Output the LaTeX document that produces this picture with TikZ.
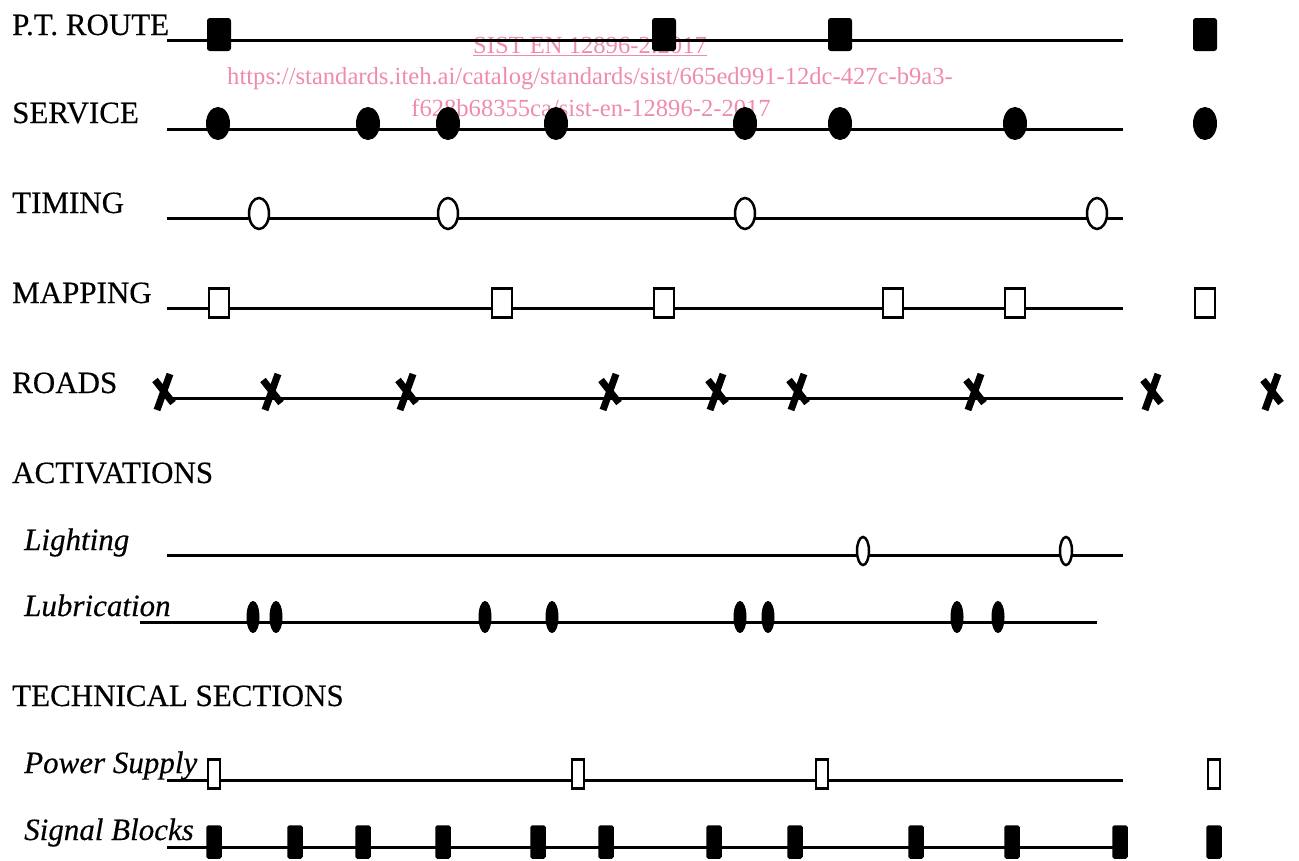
\documentclass[tikz,border=0pt]{standalone}
\usepackage{fontspec}
\setmainfont{Liberation Serif}
\newfontfamily\heavyserif[FakeBold=0.35]{Liberation Serif}
\usetikzlibrary{shapes.geometric}

\definecolor{wmpink}{RGB}{238,140,170}

\tikzset{
  track/.style={line width=3pt},
  lbl/.style={anchor=base west, inner sep=0pt, font=\fontsize{31}{31}\heavyserif},
  ilbl/.style={lbl, font=\fontsize{31}{31}\heavyserif\itshape},
  wm/.style={anchor=base, inner sep=0pt, text=wmpink, font=\fontsize{24.6}{25}\selectfont},
  fsq/.style={rectangle, draw, fill=black, line width=2pt, rounded corners=2pt,
              inner sep=0pt, minimum width=22pt, minimum height=31pt},
  osq/.style={rectangle, draw, fill=white, line width=2.5pt,
              inner sep=0pt, minimum width=20pt, minimum height=29pt},
  fdot/.style={ellipse, draw, fill=black, line width=1pt,
               inner sep=0pt, minimum width=23pt, minimum height=32pt},
  odot/.style={ellipse, draw, fill=white, line width=2.5pt,
               inner sep=0pt, minimum width=20pt, minimum height=31pt},
  olamp/.style={ellipse, draw, fill=white, line width=2.5pt,
                inner sep=0pt, minimum width=12pt, minimum height=28pt},
  fdrop/.style={ellipse, draw, fill=black, line width=1pt,
                inner sep=0pt, minimum width=12pt, minimum height=31pt},
  obar/.style={rectangle, draw, fill=white, line width=2.5pt,
               inner sep=0pt, minimum width=12pt, minimum height=29pt},
  fbar/.style={rectangle, draw, fill=black, line width=1.5pt, rounded corners=1.5pt,
               inner sep=0pt, minimum width=14pt, minimum height=32pt},
  xcross/.style={rectangle, inner sep=0pt, minimum width=36pt, minimum height=48pt,
    path picture={\draw[line width=7pt, shift={(path picture bounding box.center)}]
      (-9,-12) -- (9,11) (6,-18) -- (-7,18);}},
}

\begin{document}
\begin{tikzpicture}[x=1pt, y=-1pt]
\useasboundingbox (0,0) rectangle (1299,860);

% watermark text
\node[wm] (wm1) at (590,53) {\underline{SIST EN 12896-2:2017}};
\node[wm] (wm2) at (590,84) {https://standards.iteh.ai/catalog/standards/sist/665ed991-12dc-427c-b9a3-};
\node[wm] (wm3) at (591,116) {f628b68355ca/sist-en-12896-2-2017};

% row labels
\node[lbl]  (l-pt)   at (12,35)  {P.T. ROUTE};
\node[lbl]  (l-sv)   at (12,123) {SERVICE};
\node[lbl]  (l-tm)   at (12,213) {TIMING};
\node[lbl]  (l-mp)   at (12,303) {MAPPING};
\node[lbl]  (l-rd)   at (12,393) {ROADS};
\node[lbl]  (l-act)  at (12,483) {ACTIVATIONS};
\node[ilbl] (l-lt)   at (24,550) {Lighting};
\node[ilbl] (l-lb)   at (24,616) {Lubrication};
\node[lbl]  (l-tec)  at (12,706) {TECHNICAL SECTIONS};
\node[ilbl] (l-ps)   at (24,773) {Power Supply};
\node[ilbl] (l-sb)   at (24,840) {Signal Blocks};

% line end points
\coordinate (pt-s) at (167,40);  \coordinate (pt-e) at (1123,40);
\coordinate (sv-s) at (167,129); \coordinate (sv-e) at (1123,129);
\coordinate (tm-s) at (167,218); \coordinate (tm-e) at (1123,218);
\coordinate (mp-s) at (167,308); \coordinate (mp-e) at (1123,308);
\coordinate (rd-s) at (167,398); \coordinate (rd-e) at (1123,398);
\coordinate (lt-s) at (167,555); \coordinate (lt-e) at (1123,555);
\coordinate (lb-s) at (140,622); \coordinate (lb-e) at (1097,622);
\coordinate (ps-s) at (167,780); \coordinate (ps-e) at (1123,780);
\coordinate (sb-s) at (167,847); \coordinate (sb-e) at (1123,847);

\foreach \r in {pt,sv,tm,mp,rd,lt,lb,ps,sb}
  \draw[track] (\r-s) -- (\r-e);

% P.T. route stops
\foreach \x [count=\i] in {219,664,840,1205}
  \node[fsq] (pt\i) at (\x,34.5) {};

% service points
\foreach \x [count=\i] in {218,368,448,556,745,840,1015,1205}
  \node[fdot] (sv\i) at (\x,123.5) {};

% timing points
\foreach \x [count=\i] in {259,448,745,1097}
  \node[odot] (tm\i) at (\x,213.5) {};

% mapping points
\foreach \x [count=\i] in {219,502,664,893,1015,1205}
  \node[osq] (mp\i) at (\x,303) {};

% road crossings
\foreach \x [count=\i] in {164,272,407,610,717,798,975,1152,1272}
  \node[xcross] (rd\i) at (\x,392) {};

% lighting
\foreach \x [count=\i] in {863,1066}
  \node[olamp] (lt\i) at (\x,551) {};

% lubrication
\foreach \x [count=\i] in {253,276,485,552,740,768,957,998}
  \node[fdrop] (lb\i) at (\x,617) {};

% power supply sections
\foreach \x [count=\i] in {214,578,822,1214}
  \node[obar] (ps\i) at (\x,774) {};

% signal blocks
\foreach \x [count=\i] in {214,295,363,443,538,606,714,795,916,1012,1120,1214}
  \node[fbar] (sb\i) at (\x,842) {};
\end{tikzpicture}
\end{document}
